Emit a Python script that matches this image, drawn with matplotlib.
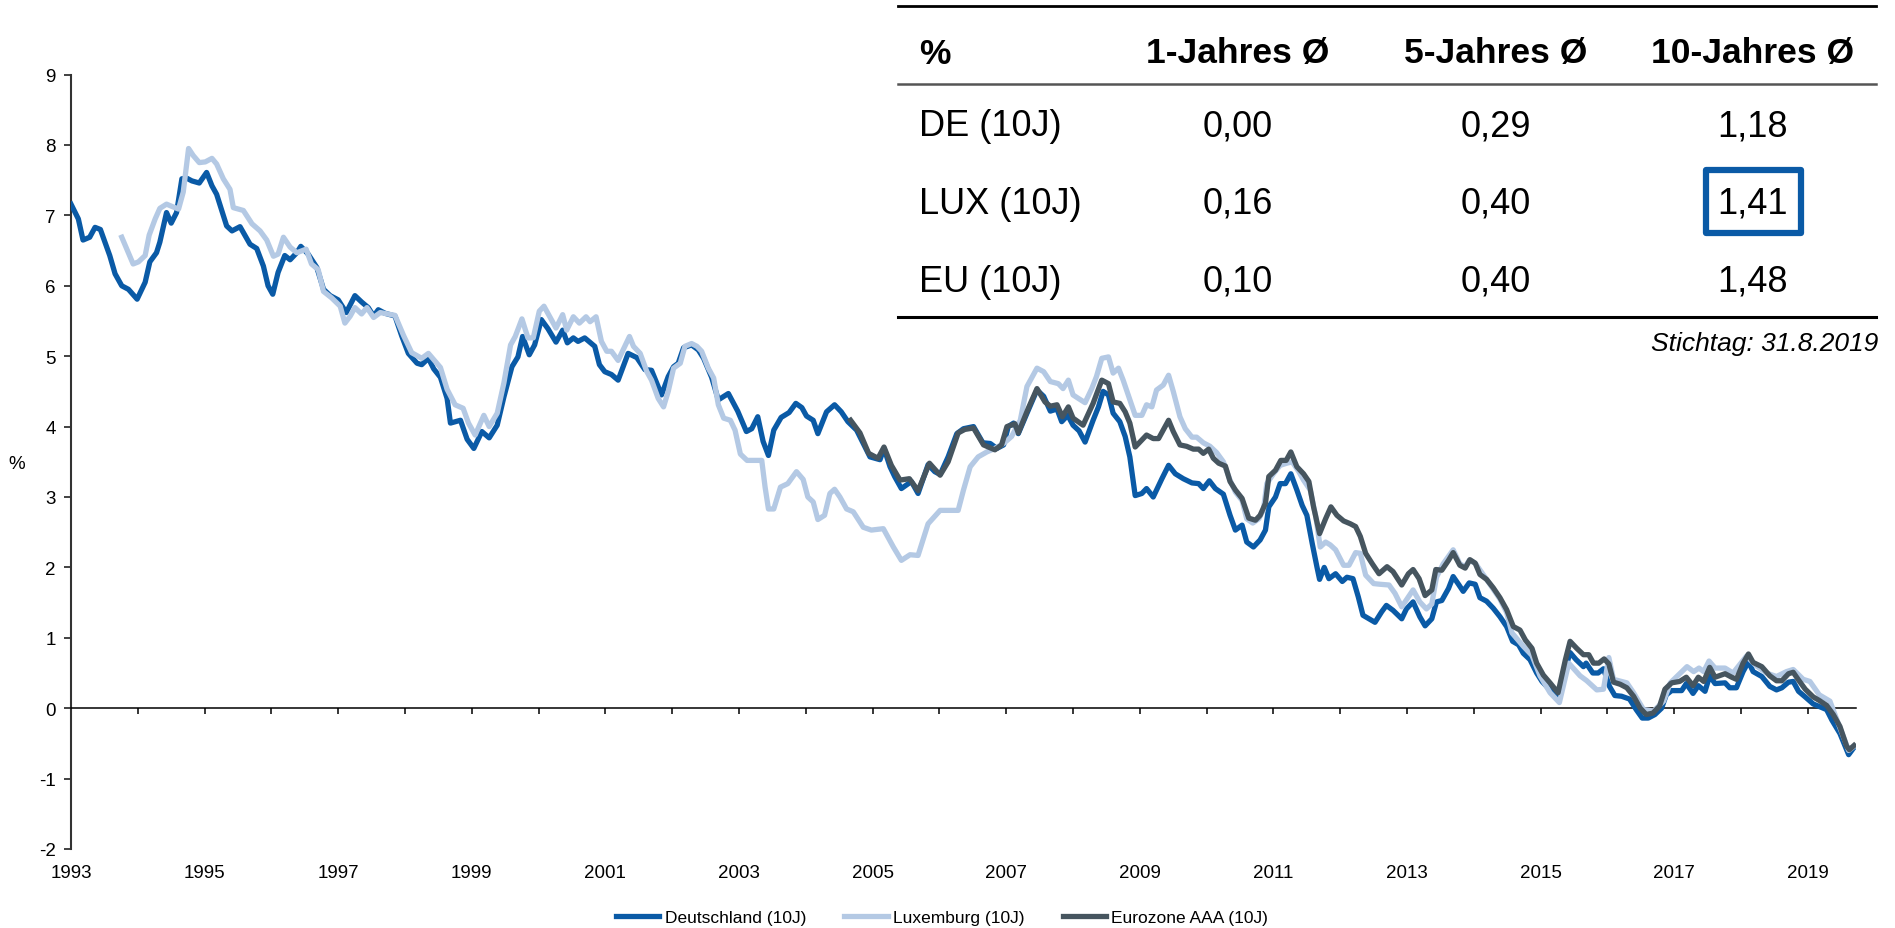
import matplotlib
matplotlib.use("Agg")
import matplotlib.pyplot as plt
from matplotlib.lines import Line2D
from matplotlib.patches import Rectangle

plt.rcParams["font.family"] = ["Liberation Sans", "DejaVu Sans"]
plt.rcParams["axes.unicode_minus"] = False

# Renditen 10-jaehriger Staatsanleihen in %, x = Jahr (dezimal)
de_years = [
    1993.00, 1993.11, 1993.18, 1993.28, 1993.36, 1993.44, 1993.58, 1993.66, 1993.76, 1993.86,
    1993.99, 1994.11, 1994.18, 1994.28, 1994.33, 1994.43, 1994.50, 1994.58, 1994.66, 1994.73,
    1994.81, 1994.92, 1995.03, 1995.11, 1995.18, 1995.33, 1995.41, 1995.53, 1995.68, 1995.78,
    1995.88, 1995.95, 1996.02, 1996.10, 1996.20, 1996.28, 1996.38, 1996.44, 1996.55, 1996.68,
    1996.78, 1996.88, 1997.00, 1997.12, 1997.25, 1997.35, 1997.45, 1997.53, 1997.60, 1997.70,
    1997.85, 1997.95, 1998.05, 1998.18, 1998.25, 1998.35, 1998.43, 1998.53, 1998.63, 1998.68,
    1998.83, 1998.93, 1999.03, 1999.15, 1999.26, 1999.38, 1999.48, 1999.60, 1999.69, 1999.76,
    1999.86, 1999.94, 2000.04, 2000.14, 2000.26, 2000.36, 2000.43, 2000.52, 2000.59, 2000.69,
    2000.84, 2000.91, 2000.99, 2001.09, 2001.19, 2001.34, 2001.47, 2001.59, 2001.69, 2001.84,
    2001.94, 2002.02, 2002.09, 2002.17, 2002.29, 2002.39, 2002.47, 2002.59, 2002.69, 2002.84,
    2002.98, 2003.11, 2003.19, 2003.28, 2003.36, 2003.44, 2003.52, 2003.63, 2003.75, 2003.85,
    2003.94, 2004.01, 2004.11, 2004.18, 2004.31, 2004.43, 2004.53, 2004.63, 2004.76, 2004.86,
    2004.96, 2005.11, 2005.17, 2005.26, 2005.33, 2005.43, 2005.58, 2005.68, 2005.83, 2005.93,
    2006.01, 2006.13, 2006.26, 2006.36, 2006.51, 2006.65, 2006.76, 2006.86, 2006.96, 2007.03,
    2007.11, 2007.18, 2007.31, 2007.46, 2007.56, 2007.66, 2007.76, 2007.83, 2007.92, 2008.00,
    2008.09, 2008.18, 2008.30, 2008.38, 2008.45, 2008.53, 2008.60, 2008.70, 2008.78, 2008.85,
    2008.93, 2009.03, 2009.10, 2009.20, 2009.33, 2009.43, 2009.53, 2009.65, 2009.78, 2009.88,
    2009.95, 2010.04, 2010.13, 2010.25, 2010.35, 2010.43, 2010.53, 2010.60, 2010.70, 2010.80,
    2010.88, 2010.93, 2011.03, 2011.10, 2011.18, 2011.26, 2011.35, 2011.43, 2011.50, 2011.58,
    2011.65, 2011.69, 2011.76, 2011.83, 2011.93, 2012.03, 2012.10, 2012.19, 2012.27, 2012.34,
    2012.52, 2012.62, 2012.69, 2012.79, 2012.92, 2012.99, 2013.09, 2013.19, 2013.27, 2013.37,
    2013.44, 2013.52, 2013.62, 2013.69, 2013.77, 2013.84, 2013.93, 2014.02, 2014.09, 2014.19,
    2014.29, 2014.39, 2014.49, 2014.58, 2014.67, 2014.74, 2014.84, 2014.94, 2015.02, 2015.14,
    2015.26, 2015.35, 2015.44, 2015.53, 2015.64, 2015.68, 2015.78, 2015.86, 2015.94, 2016.03,
    2016.11, 2016.21, 2016.33, 2016.43, 2016.52, 2016.61, 2016.71, 2016.81, 2016.88, 2016.96,
    2017.11, 2017.18, 2017.28, 2017.36, 2017.46, 2017.53, 2017.61, 2017.76, 2017.83, 2017.93,
    2018.03, 2018.11, 2018.18, 2018.31, 2018.43, 2018.53, 2018.61, 2018.71, 2018.78, 2018.86,
    2018.96, 2019.08, 2019.18, 2019.28, 2019.36, 2019.48, 2019.61, 2019.68,
]
de_values = [
    7.16, 6.95, 6.65, 6.69, 6.83, 6.80, 6.43, 6.17, 6.00, 5.95,
    5.81, 6.05, 6.34, 6.47, 6.62, 7.04, 6.89, 7.04, 7.52, 7.53,
    7.49, 7.46, 7.61, 7.42, 7.30, 6.85, 6.78, 6.84, 6.59, 6.53,
    6.28, 6.00, 5.88, 6.19, 6.43, 6.37, 6.47, 6.56, 6.45, 6.26,
    5.95, 5.86, 5.80, 5.62, 5.86, 5.77, 5.69, 5.57, 5.66, 5.61,
    5.57, 5.29, 5.04, 4.90, 4.88, 4.97, 4.82, 4.70, 4.40, 4.05,
    4.09, 3.82, 3.69, 3.93, 3.84, 4.02, 4.42, 4.85, 4.99, 5.28,
    5.02, 5.16, 5.52, 5.39, 5.20, 5.37, 5.19, 5.26, 5.21, 5.26,
    5.14, 4.88, 4.78, 4.74, 4.66, 5.04, 4.98, 4.81, 4.80, 4.45,
    4.71, 4.85, 4.90, 5.12, 5.16, 5.09, 4.97, 4.70, 4.38, 4.47,
    4.22, 3.93, 3.97, 4.14, 3.79, 3.59, 3.95, 4.13, 4.20, 4.33,
    4.27, 4.15, 4.09, 3.90, 4.21, 4.31, 4.21, 4.07, 3.95, 3.76,
    3.57, 3.53, 3.69, 3.43, 3.29, 3.12, 3.22, 3.05, 3.46, 3.36,
    3.32, 3.57, 3.90, 3.97, 4.00, 3.77, 3.76, 3.69, 3.74, 4.00,
    4.05, 3.90, 4.19, 4.52, 4.43, 4.22, 4.25, 4.07, 4.16, 4.02,
    3.94, 3.78, 4.09, 4.28, 4.50, 4.45, 4.19, 4.07, 3.86, 3.57,
    3.02, 3.05, 3.12, 3.00, 3.26, 3.45, 3.33, 3.26, 3.20, 3.19,
    3.12, 3.23, 3.12, 3.04, 2.74, 2.53, 2.60, 2.36, 2.29, 2.39,
    2.53, 2.86, 3.00, 3.19, 3.19, 3.33, 3.10, 2.88, 2.74, 2.34,
    2.01, 1.83, 2.00, 1.84, 1.91, 1.80, 1.86, 1.84, 1.58, 1.32,
    1.22, 1.37, 1.46, 1.39, 1.27, 1.41, 1.51, 1.30, 1.17, 1.27,
    1.51, 1.53, 1.70, 1.87, 1.76, 1.66, 1.78, 1.76, 1.57, 1.52,
    1.42, 1.30, 1.16, 0.95, 0.90, 0.78, 0.69, 0.50, 0.38, 0.26,
    0.17, 0.50, 0.79, 0.69, 0.59, 0.64, 0.50, 0.50, 0.56, 0.31,
    0.18, 0.17, 0.13, -0.02, -0.14, -0.14, -0.09, 0.00, 0.19, 0.25,
    0.25, 0.35, 0.21, 0.32, 0.24, 0.46, 0.35, 0.36, 0.29, 0.29,
    0.52, 0.66, 0.52, 0.45, 0.31, 0.26, 0.29, 0.37, 0.38, 0.24,
    0.16, 0.06, 0.02, -0.02, -0.17, -0.36, -0.66, -0.57,
]

lux_years = [
    1993.76, 1993.93, 1994.01, 1994.11, 1994.17, 1994.26, 1994.33, 1994.43, 1994.53, 1994.61,
    1994.68, 1994.76, 1994.83, 1994.92, 1995.01, 1995.11, 1995.18, 1995.28, 1995.38, 1995.43,
    1995.58, 1995.71, 1995.83, 1995.93, 1996.03, 1996.10, 1996.18, 1996.28, 1996.38, 1996.52,
    1996.60, 1996.70, 1996.78, 1996.90, 1997.03, 1997.10, 1997.18, 1997.25, 1997.35, 1997.43,
    1997.53, 1997.63, 1997.85, 1997.98, 1998.10, 1998.25, 1998.35, 1998.53, 1998.63, 1998.75,
    1998.87, 1998.95, 1999.05, 1999.18, 1999.26, 1999.38, 1999.48, 1999.58, 1999.65, 1999.75,
    1999.84, 1999.92, 2000.01, 2000.08, 2000.26, 2000.36, 2000.42, 2000.52, 2000.61, 2000.71,
    2000.77, 2000.86, 2000.94, 2001.02, 2001.09, 2001.19, 2001.36, 2001.42, 2001.52, 2001.62,
    2001.69, 2001.79, 2001.87, 2001.94, 2002.02, 2002.12, 2002.19, 2002.29, 2002.37, 2002.44,
    2002.54, 2002.62, 2002.69, 2002.77, 2002.87, 2002.94, 2003.02, 2003.12, 2003.34, 2003.39,
    2003.44, 2003.52, 2003.62, 2003.73, 2003.86, 2003.96, 2004.03, 2004.11, 2004.18, 2004.28,
    2004.36, 2004.43, 2004.51, 2004.61, 2004.71, 2004.86, 2004.98, 2005.16, 2005.31, 2005.43,
    2005.56, 2005.68, 2005.83, 2006.01, 2006.28, 2006.36, 2006.46, 2006.58, 2006.71, 2006.83,
    2006.96, 2007.08, 2007.21, 2007.31, 2007.46, 2007.56, 2007.66, 2007.78, 2007.85, 2007.93,
    2008.00, 2008.08, 2008.18, 2008.28, 2008.35, 2008.43, 2008.53, 2008.60, 2008.68, 2008.75,
    2008.85, 2008.93, 2009.03, 2009.10, 2009.18, 2009.25, 2009.35, 2009.43, 2009.50, 2009.60,
    2009.68, 2009.78, 2009.85, 2009.95, 2010.05, 2010.15, 2010.25, 2010.35, 2010.43, 2010.53,
    2010.60, 2010.69, 2010.78, 2010.85, 2010.90, 2011.00, 2011.10, 2011.20, 2011.28, 2011.38,
    2011.45, 2011.55, 2011.63, 2011.70, 2011.78, 2011.85, 2011.93, 2012.05, 2012.13, 2012.23,
    2012.30, 2012.38, 2012.50, 2012.60, 2012.73, 2012.82, 2012.92, 2013.02, 2013.09, 2013.19,
    2013.29, 2013.37, 2013.44, 2013.54, 2013.69, 2013.79, 2013.87, 2013.93, 2014.02, 2014.19,
    2014.39, 2014.49, 2014.57, 2014.74, 2014.87, 2014.99, 2015.14, 2015.28, 2015.42, 2015.59,
    2015.69, 2015.84, 2015.94, 2016.02, 2016.09, 2016.29, 2016.39, 2016.54, 2016.69, 2016.84,
    2016.94, 2017.07, 2017.19, 2017.29, 2017.37, 2017.44, 2017.52, 2017.61, 2017.76, 2017.88,
    2018.08, 2018.23, 2018.38, 2018.53, 2018.68, 2018.78, 2018.93, 2019.03, 2019.17, 2019.33,
    2019.48, 2019.61, 2019.68,
]
lux_values = [
    6.69, 6.31, 6.34, 6.43, 6.72, 6.95, 7.10, 7.16, 7.12, 7.09,
    7.33, 7.95, 7.85, 7.75, 7.76, 7.81, 7.73, 7.52, 7.37, 7.11,
    7.07, 6.88, 6.78, 6.65, 6.42, 6.45, 6.69, 6.55, 6.47, 6.52,
    6.31, 6.23, 5.92, 5.83, 5.71, 5.47, 5.57, 5.69, 5.60, 5.69,
    5.55, 5.62, 5.58, 5.29, 5.05, 4.97, 5.04, 4.84, 4.53, 4.31,
    4.26, 4.05, 3.88, 4.16, 4.00, 4.19, 4.62, 5.16, 5.28, 5.53,
    5.26, 5.26, 5.64, 5.71, 5.40, 5.59, 5.37, 5.56, 5.47, 5.56,
    5.49, 5.56, 5.21, 5.07, 5.07, 4.94, 5.28, 5.14, 5.04, 4.78,
    4.66, 4.40, 4.28, 4.50, 4.83, 4.90, 5.14, 5.18, 5.14, 5.07,
    4.83, 4.69, 4.31, 4.12, 4.09, 3.95, 3.61, 3.52, 3.52, 3.14,
    2.83, 2.83, 3.14, 3.19, 3.36, 3.25, 3.00, 2.93, 2.68, 2.74,
    3.05, 3.11, 3.00, 2.83, 2.79, 2.57, 2.53, 2.55, 2.29, 2.10,
    2.18, 2.17, 2.62, 2.81, 2.81, 3.10, 3.43, 3.57, 3.64, 3.69,
    3.76, 3.86, 4.09, 4.57, 4.83, 4.78, 4.64, 4.61, 4.54, 4.66,
    4.45, 4.40, 4.34, 4.54, 4.71, 4.97, 4.99, 4.76, 4.83, 4.66,
    4.38, 4.16, 4.16, 4.31, 4.28, 4.52, 4.59, 4.73, 4.50, 4.14,
    3.97, 3.85, 3.85, 3.77, 3.72, 3.63, 3.50, 3.24, 3.07, 2.95,
    2.69, 2.63, 2.69, 2.82, 3.19, 3.33, 3.45, 3.48, 3.50, 3.36,
    3.24, 3.10, 2.74, 2.29, 2.36, 2.32, 2.25, 2.03, 2.03, 2.21,
    2.20, 1.89, 1.77, 1.76, 1.75, 1.63, 1.44, 1.58, 1.68, 1.51,
    1.41, 1.48, 1.86, 2.05, 2.25, 2.05, 2.01, 2.10, 2.06, 1.83,
    1.55, 1.36, 1.07, 0.88, 0.75, 0.46, 0.22, 0.08, 0.64, 0.46,
    0.39, 0.26, 0.27, 0.72, 0.41, 0.36, 0.22, -0.02, -0.04, 0.10,
    0.36, 0.48, 0.59, 0.52, 0.57, 0.52, 0.67, 0.57, 0.57, 0.50,
    0.74, 0.60, 0.50, 0.45, 0.52, 0.55, 0.41, 0.38, 0.19, 0.10,
    -0.28, -0.60, -0.55,
]

eu_years = [
    2004.67, 2004.81, 2004.94, 2005.08, 2005.17, 2005.28, 2005.41, 2005.55, 2005.68, 2005.85,
    2006.01, 2006.13, 2006.28, 2006.38, 2006.51, 2006.66, 2006.83, 2006.93, 2007.01, 2007.13,
    2007.18, 2007.33, 2007.46, 2007.58, 2007.66, 2007.76, 2007.84, 2007.93, 2008.00, 2008.15,
    2008.30, 2008.43, 2008.53, 2008.60, 2008.70, 2008.78, 2008.85, 2008.93, 2009.03, 2009.10,
    2009.20, 2009.28, 2009.35, 2009.43, 2009.50, 2009.60, 2009.70, 2009.80, 2009.88, 2009.95,
    2010.03, 2010.10, 2010.18, 2010.28, 2010.35, 2010.43, 2010.53, 2010.63, 2010.73, 2010.80,
    2010.88, 2010.93, 2011.03, 2011.11, 2011.19, 2011.26, 2011.35, 2011.45, 2011.53, 2011.60,
    2011.69, 2011.78, 2011.86, 2011.95, 2012.05, 2012.15, 2012.23, 2012.30, 2012.38, 2012.48,
    2012.58, 2012.70, 2012.79, 2012.92, 2013.02, 2013.09, 2013.18, 2013.27, 2013.37, 2013.43,
    2013.52, 2013.62, 2013.69, 2013.79, 2013.87, 2013.94, 2014.02, 2014.09, 2014.19, 2014.29,
    2014.39, 2014.49, 2014.59, 2014.69, 2014.77, 2014.87, 2014.94, 2015.04, 2015.14, 2015.26,
    2015.37, 2015.44, 2015.54, 2015.64, 2015.72, 2015.79, 2015.87, 2015.95, 2016.02, 2016.09,
    2016.19, 2016.29, 2016.39, 2016.49, 2016.58, 2016.68, 2016.78, 2016.86, 2016.96, 2017.08,
    2017.18, 2017.28, 2017.36, 2017.44, 2017.53, 2017.61, 2017.76, 2017.86, 2017.93, 2018.03,
    2018.11, 2018.18, 2018.31, 2018.43, 2018.53, 2018.61, 2018.71, 2018.78, 2018.86, 2018.96,
    2019.08, 2019.17, 2019.28, 2019.38, 2019.48, 2019.58, 2019.62, 2019.69,
]
eu_values = [
    4.09, 3.91, 3.62, 3.55, 3.71, 3.45, 3.24, 3.26, 3.09, 3.48,
    3.31, 3.50, 3.91, 3.96, 3.98, 3.74, 3.67, 3.74, 4.00, 4.04,
    3.91, 4.26, 4.54, 4.35, 4.29, 4.31, 4.14, 4.28, 4.12, 4.02,
    4.33, 4.66, 4.61, 4.35, 4.33, 4.21, 4.05, 3.71, 3.81, 3.88,
    3.83, 3.83, 3.95, 4.09, 3.93, 3.74, 3.72, 3.68, 3.68, 3.62,
    3.68, 3.55, 3.48, 3.44, 3.22, 3.10, 2.98, 2.70, 2.67, 2.74,
    2.91, 3.29, 3.38, 3.52, 3.52, 3.64, 3.43, 3.33, 3.22, 2.86,
    2.48, 2.69, 2.86, 2.74, 2.66, 2.62, 2.58, 2.44, 2.20, 2.05,
    1.91, 2.01, 1.94, 1.75, 1.91, 1.97, 1.84, 1.60, 1.68, 1.97,
    1.96, 2.10, 2.21, 2.03, 1.99, 2.11, 2.06, 1.90, 1.83, 1.71,
    1.57, 1.40, 1.16, 1.11, 0.97, 0.85, 0.64, 0.47, 0.36, 0.22,
    0.69, 0.95, 0.85, 0.76, 0.76, 0.64, 0.64, 0.70, 0.63, 0.37,
    0.34, 0.29, 0.17, 0.00, -0.09, -0.07, 0.03, 0.27, 0.36, 0.38,
    0.44, 0.32, 0.44, 0.38, 0.58, 0.44, 0.49, 0.44, 0.41, 0.64,
    0.77, 0.65, 0.59, 0.46, 0.39, 0.39, 0.49, 0.51, 0.40, 0.27,
    0.16, 0.11, 0.04, -0.09, -0.26, -0.54, -0.59, -0.53,
]

series_labels = ["Deutschland (10J)", "Luxemburg (10J)", "Eurozone AAA (10J)"]
series_colors = ["#0A5AA6", "#B4C9E4", "#46555F"]

# Tabelle oben rechts
table_header = ["%", "1-Jahres Ø", "5-Jahres Ø", "10-Jahres Ø"]
table_rows = ["DE (10J)", "LUX (10J)", "EU (10J)"]
table_values = [
    ["0,00", "0,29", "1,18"],
    ["0,16", "0,40", "1,41"],
    ["0,10", "0,40", "1,48"],
]
stichtag = "Stichtag: 31.8.2019"

W, H = 1895, 929
fig = plt.figure(figsize=(W / 100, H / 100), dpi=100)


def fx(x):
    return x / W


def fy(y):
    return 1 - y / H


ax = fig.add_axes([fx(71), fy(850), fx(1856) - fx(71), fy(75.6) - fy(850)])

ax.plot(de_years, de_values, color=series_colors[0], lw=3.8, label=series_labels[0],
        solid_joinstyle="round", zorder=3)
ax.plot(lux_years, lux_values, color=series_colors[1], lw=3.8, label=series_labels[1],
        solid_joinstyle="round", zorder=3)
ax.plot(eu_years, eu_values, color=series_colors[2], lw=3.8, label=series_labels[2],
        solid_joinstyle="round", zorder=3)

ax.set_xlim(1993, 2019.72)
ax.set_ylim(-2, 9)

for s in ["top", "right"]:
    ax.spines[s].set_visible(False)
ax.spines["left"].set_color("#333333")
ax.spines["left"].set_linewidth(1.5)
ax.spines["bottom"].set_position(("data", 0))
ax.spines["bottom"].set_color("black")
ax.spines["bottom"].set_linewidth(1.1)

years = list(range(1993, 2020))
ax.set_xticks(years)
ax.set_xticklabels([str(y) if (y - 1993) % 2 == 0 else "" for y in years])
ax.set_yticks(range(-2, 10))
ax.tick_params(axis="x", direction="out", length=4, width=1.1, pad=108, labelsize=13.5)
ax.tick_params(axis="y", direction="out", length=5, width=1.3, pad=6, labelsize=13.5,
               color="#333333")

fig.text(fx(17), fy(465), "%", fontsize=13.5, ha="center", va="center")

fig.legend(loc="center", bbox_to_anchor=(fx(942), fy(918)), ncol=3, frameon=False,
           fontsize=12.5, handlelength=2.5, handletextpad=0.3, columnspacing=2.2)

# Tabelle
col_x = [919, 1238, 1496, 1753]
row_y = [127, 204, 282]
line_x0, line_x1 = 898, 1876

fig.add_artist(Line2D([fx(line_x0), fx(line_x1)], [fy(7), fy(7)], color="black", lw=2))
fig.add_artist(Line2D([fx(line_x0), fx(line_x1)], [fy(85), fy(85)], color="#555555", lw=1.8))
fig.add_artist(Line2D([fx(line_x0), fx(line_x1)], [fy(318), fy(318)], color="black", lw=2.2))

for i, h in enumerate(table_header):
    fig.text(fx(col_x[i]), fy(54), h, fontsize=25.5, fontweight="bold",
             ha="left" if i == 0 else "center", va="center")

for r, name in enumerate(table_rows):
    fig.text(fx(col_x[0]), fy(row_y[r]), name, fontsize=26, ha="left", va="center")
    for c, val in enumerate(table_values[r]):
        fig.text(fx(col_x[c + 1]), fy(row_y[r]), val, fontsize=26, ha="center", va="center")

box = Rectangle((fx(1706), fy(234)), fx(1801) - fx(1706), fy(171) - fy(234),
                transform=fig.transFigure, fill=False, edgecolor="#0A5AA6", lw=4.5,
                joinstyle="round")
fig.add_artist(box)

fig.text(fx(1878), fy(344), stichtag, fontsize=19, style="italic", ha="right", va="center")

fig.savefig("out.png", dpi=100)
